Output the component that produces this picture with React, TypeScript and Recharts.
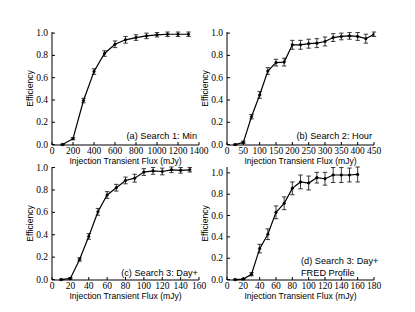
import { LineChart, Line, XAxis, YAxis, ErrorBar } from "recharts";

// panel (a) Search 1: Min
const fluxA = [100, 200, 300, 400, 500, 600, 700, 800, 900, 1000, 1100, 1200, 1300];
const effA = [0.0, 0.053, 0.395, 0.655, 0.817, 0.9, 0.94, 0.96, 0.975, 0.985, 0.99, 0.99, 0.99];
const errA = [0.004, 0.01, 0.02, 0.025, 0.025, 0.03, 0.03, 0.025, 0.025, 0.02, 0.02, 0.02, 0.02];
const ticksA = [0, 200, 400, 600, 800, 1000, 1200, 1400];

// panel (b) Search 2: Hour
const fluxB = [25, 50, 75, 100, 125, 150, 175, 200, 225, 250, 275, 300, 325, 350, 375, 400, 425, 450];
const effB = [0.0, 0.02, 0.25, 0.445, 0.66, 0.735, 0.74, 0.895, 0.895, 0.905, 0.91, 0.925, 0.96, 0.97, 0.975, 0.97, 0.95, 0.99];
const errB = [0.004, 0.01, 0.02, 0.03, 0.03, 0.03, 0.035, 0.04, 0.04, 0.04, 0.04, 0.04, 0.035, 0.03, 0.03, 0.035, 0.04, 0.02];
const ticksB = [0, 50, 100, 150, 200, 250, 300, 350, 400, 450];

// panel (c) Search 3: Day+
const fluxC = [10, 20, 30, 40, 50, 60, 70, 80, 90, 100, 110, 120, 130, 140, 150];
const effC = [0.0, 0.01, 0.18, 0.385, 0.605, 0.755, 0.82, 0.885, 0.905, 0.96, 0.97, 0.965, 0.98, 0.975, 0.98];
const errC = [0.004, 0.008, 0.015, 0.025, 0.03, 0.03, 0.03, 0.03, 0.035, 0.03, 0.03, 0.03, 0.025, 0.025, 0.02];
const ticksC = [0, 20, 40, 60, 80, 100, 120, 140, 160];

// panel (d) Search 3: Day+ FRED Profile
const fluxD = [10, 20, 30, 40, 50, 60, 70, 80, 90, 100, 110, 120, 130, 140, 150, 160];
const effD = [0.0, 0.005, 0.05, 0.29, 0.425, 0.63, 0.715, 0.855, 0.915, 0.905, 0.955, 0.945, 0.98, 0.98, 0.98, 0.985];
const errD = [0.004, 0.006, 0.015, 0.04, 0.05, 0.06, 0.06, 0.06, 0.065, 0.065, 0.05, 0.06, 0.07, 0.07, 0.065, 0.07];
const ticksD = [0, 20, 40, 60, 80, 100, 120, 140, 160, 180];

const yTicks = [0, 0.2, 0.4, 0.6, 0.8, 1.0];

const serif = "'Liberation Serif', 'Times New Roman', serif";
const sans = "'Liberation Sans', Arial, sans-serif";

const CW = 210;
const CH = 170;
const YW = 20;
const XH = 25;

// tick labels drawn by hand so the serif face sticks
const XTick = ({ x, y, payload }: any) => (
  <text x={x} y={y + 6} textAnchor="middle" dominantBaseline="central" fontFamily={serif} fontSize={9.5} fill="#000">
    {payload.value}
  </text>
);

const YTick = ({ x, y, payload }: any) => (
  <text x={x - 7} y={y} textAnchor="end" dominantBaseline="central" fontFamily={serif} fontSize={9.5} fill="#000">
    {Number(payload.value).toFixed(1)}
  </text>
);

type PanelProps = {
  ox: number;
  oy: number;
  plotLeft: number;
  plotTop: number;
  plotW: number;
  plotH: number;
  flux: number[];
  eff: number[];
  err: number[];
  xTicks: number[];
};

const Panel = ({ ox, oy, plotLeft, plotTop, plotW, plotH, flux, eff, err, xTicks }: PanelProps) => {
  const data = flux.map((f, i) => ({ flux: f, eff: eff[i], err: err[i] }));
  const margin = {
    top: plotTop - oy,
    left: plotLeft - ox - YW,
    right: ox + CW - (plotLeft + plotW),
    bottom: oy + CH - (plotTop + plotH) - XH,
  };
  const domain: [number, number] = [xTicks[0], xTicks[xTicks.length - 1]];

  return (
    <div style={{ position: "absolute", left: ox, top: oy }}>
      <LineChart width={CW} height={CH} data={data} margin={margin}>
        <XAxis
          dataKey="flux"
          type="number"
          domain={domain}
          ticks={xTicks}
          interval={0}
          allowDataOverflow
          tick={<XTick />}
          tickSize={-3}
          tickMargin={3}
          stroke="#000"
          height={XH}
          label={{
            content: ({ viewBox }: any) => (
              <text
                x={viewBox.x + viewBox.width / 2}
                y={viewBox.y + 15.5}
                textAnchor="middle"
                dominantBaseline="central"
                fontFamily={sans}
                fontSize={8.6}
                fill="#000"
              >
                Injection Transient Flux (mJy)
              </text>
            ),
          }}
        />
        <XAxis
          xAxisId="top"
          orientation="top"
          type="number"
          domain={domain}
          ticks={xTicks}
          interval={0}
          tick={false}
          tickSize={-3}
          stroke="#000"
          height={0}
        />
        <YAxis
          type="number"
          domain={[0, 1]}
          ticks={yTicks}
          interval={0}
          tick={<YTick />}
          tickSize={-3}
          tickMargin={0}
          stroke="#000"
          width={YW}
          label={{
            content: ({ viewBox }: any) => {
              const cx = viewBox.x + viewBox.width - 22.5;
              const cy = viewBox.y + viewBox.height / 2;
              return (
                <text
                  x={cx}
                  y={cy}
                  transform={`rotate(-90 ${cx} ${cy})`}
                  textAnchor="middle"
                  dominantBaseline="central"
                  fontFamily={sans}
                  fontSize={8.6}
                  fill="#000"
                >
                  Efficiency
                </text>
              );
            },
          }}
        />
        <YAxis
          yAxisId="right"
          orientation="right"
          type="number"
          domain={[0, 1]}
          ticks={yTicks}
          interval={0}
          tick={false}
          tickSize={-3}
          stroke="#000"
          width={0}
        />
        <Line
          dataKey="eff"
          stroke="#000"
          strokeWidth={1.2}
          dot={{ r: 1.3, fill: "#000", stroke: "#000", strokeWidth: 0.5 }}
          isAnimationActive={false}
        >
          <ErrorBar dataKey="err" direction="y" width={2.2} stroke="#222" strokeWidth={0.9} />
        </Line>
      </LineChart>
    </div>
  );
};

const Note = ({ left, top, right, children }: { left?: number; top: number; right?: number; children: any }) => (
  <div
    style={{
      position: "absolute",
      left,
      right,
      top,
      fontFamily: sans,
      fontSize: 9.2,
      lineHeight: "12.5px",
      color: "#000",
      whiteSpace: "nowrap",
      textAlign: right !== undefined ? "right" : "left",
    }}
  >
    {children}
  </div>
);

export default function App() {
  return (
    <div style={{ position: "absolute", left: 0, top: 0, width: 415, height: 312, background: "#fff", overflow: "hidden" }}>
      <Panel ox={0} oy={0} plotLeft={52} plotTop={32} plotW={147} plotH={113} flux={fluxA} eff={effA} err={errA} xTicks={ticksA} />
      <Panel ox={190} oy={0} plotLeft={227} plotTop={32} plotW={147} plotH={113} flux={fluxB} eff={effB} err={errB} xTicks={ticksB} />
      <Panel ox={0} oy={135} plotLeft={52} plotTop={167} plotW={147} plotH={113} flux={fluxC} eff={effC} err={errC} xTicks={ticksC} />
      <Panel ox={190} oy={135} plotLeft={227} plotTop={167} plotW={147} plotH={113} flux={fluxD} eff={effD} err={errD} xTicks={ticksD} />
      <Note right={415 - 197} top={130}>(a) Search 1: Min</Note>
      <Note right={415 - 372} top={130}>(b) Search 2: Hour</Note>
      <Note right={415 - 198} top={266.5}>(c) Search 3: Day+</Note>
      <Note left={301} top={254.5}>
        (d) Search 3: Day+
        <br />
        FRED Profile
      </Note>
    </div>
  );
}
